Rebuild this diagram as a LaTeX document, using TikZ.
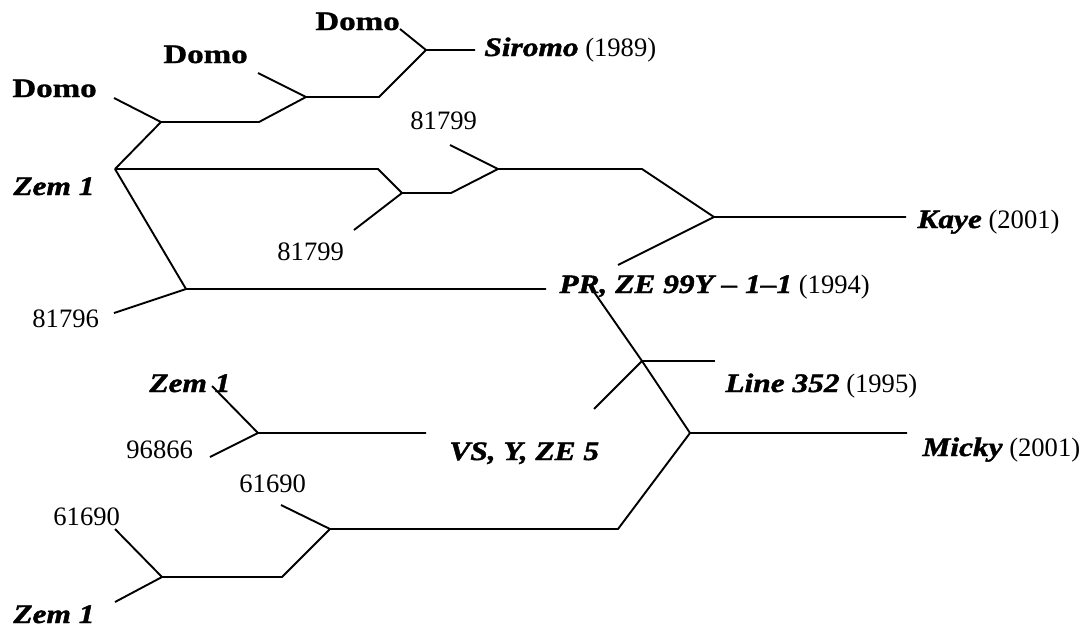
\documentclass[tikz,border=0pt]{standalone}
\usepackage{fontspec}
\setmainfont{Liberation Serif}
% wider, heavier faces for the strain names
\newfontfamily\strainfont[FakeStretch=1.18, FakeBold=1.6]{Liberation Serif}
\newfontfamily\parentfont[FakeStretch=1.24, FakeBold=1.2]{Liberation Serif}
\newcommand{\strain}[1]{{\strainfont\bfseries\itshape #1}}
\newcommand{\parent}[1]{{\parentfont\bfseries #1}}

\tikzset{
  branch/.style={line width=0.95pt, line join=miter, line cap=butt},
  lbl/.style={inner sep=0pt, anchor=base west, font=\fontsize{13.3}{15}\selectfont},
}

\begin{document}
\begin{tikzpicture}[x=0.5pt, y=-0.5pt]
\useasboundingbox (0,0) rectangle (1085,627);

% ---------- labels ----------
\node[lbl] (domoA) at (315,30)  {\parent{Domo}};
\node[lbl] (domoB) at (163,63)  {\parent{Domo}};
\node[lbl] (domoC) at (12,97)   {\parent{Domo}};
\node[lbl] (siromo) at (484,56) {\strain{Siromo} (1989)};
\node[lbl] (nUp)   at (410,129) {81799};
\node[lbl] (zemA)  at (13,195)  {\strain{Zem 1}};
\node[lbl] (nLow)  at (277,260) {81799};
\node[lbl] (kaye)  at (917,228) {\strain{Kaye} (2001)};
\node[lbl] (n796)  at (32,327)  {81796};
\node[lbl] (pr)    at (559,293) {\strain{PR, ZE 99Y – 1–1} (1994)};
\node[lbl] (zemB)  at (149,392) {\strain{Zem 1}};
\node[lbl] (line)  at (725,392) {\strain{Line 352} (1995)};
\node[lbl] (n866)  at (126,458) {96866};
\node[lbl] (vs)    at (449,460) {\strain{VS, Y, ZE 5}};
\node[lbl] (micky) at (922,456) {\strain{Micky} (2001)};
\node[lbl] (n690a) at (239,492) {61690};
\node[lbl] (n690b) at (53,525)  {61690};
\node[lbl] (zemC)  at (13,623)  {\strain{Zem 1}};

% ---------- junctions and branch ends ----------
\coordinate (j1) at (426,50);
\coordinate (j2) at (306,97);
\coordinate (j3) at (161,122);
\coordinate (root) at (115,169);
\coordinate (j4) at (402,193);
\coordinate (j5) at (498,169);
\coordinate (j6) at (714,217);
\coordinate (j7) at (186,289);
\coordinate (j8) at (642,361);
\coordinate (j9) at (690,433);
\coordinate (j10) at (330,529);
\coordinate (j11) at (162,577);
\coordinate (j12) at (258,433);

\coordinate (eDomoA) at (400,29);
\coordinate (eSiromo) at (475,50);
\coordinate (k1) at (379,97);
\coordinate (eDomoB) at (258,73);
\coordinate (k2) at (259,122);
\coordinate (eDomoC) at (114,98);
\coordinate (k3) at (378,169);
\coordinate (eLow) at (354,230);
\coordinate (k4) at (451,193);
\coordinate (eUp) at (450,145);
\coordinate (k5) at (642,169);
\coordinate (eKaye) at (906,217);
\coordinate (ePRup) at (618,265);
\coordinate (e796) at (114,313);
\coordinate (ePR) at (546,289);
\coordinate (sPR) at (594,292);
\coordinate (eLine) at (715,361);
\coordinate (eLineL) at (594,409);
\coordinate (eMicky) at (907,433);
\coordinate (k6) at (618,529);
\coordinate (e690a) at (281,505);
\coordinate (k7) at (282,577);
\coordinate (e690b) at (115,529);
\coordinate (eZemC) at (115,602);
\coordinate (eZemB) at (212,386);
\coordinate (e866) at (210,457);
\coordinate (eVS) at (426,433);

% ---------- main tree ----------
\draw[branch] (eDomoA) -- (j1) -- (eSiromo);
\draw[branch] (j1) -- (k1) -- (j2);
\draw[branch] (eDomoB) -- (j2) -- (k2) -- (j3);
\draw[branch] (eDomoC) -- (j3) -- (root);
\draw[branch] (root) -- (k3) -- (j4);
\draw[branch] (eLow) -- (j4) -- (k4) -- (j5);
\draw[branch] (eUp) -- (j5) -- (k5) -- (j6) -- (eKaye);
\draw[branch] (j6) -- (ePRup);
\draw[branch] (root) -- (j7) -- (ePR);
\draw[branch] (e796) -- (j7);
\draw[branch] (sPR) -- (j8) -- (j9) -- (eMicky);
\draw[branch] (j8) -- (eLine);
\draw[branch] (j8) -- (eLineL);
\draw[branch] (j9) -- (k6) -- (j10);
\draw[branch] (e690a) -- (j10) -- (k7) -- (j11);
\draw[branch] (e690b) -- (j11) -- (eZemC);

% ---------- second tree ----------
\draw[branch] (eZemB) -- (j12) -- (eVS);
\draw[branch] (e866) -- (j12);
\end{tikzpicture}
\end{document}
